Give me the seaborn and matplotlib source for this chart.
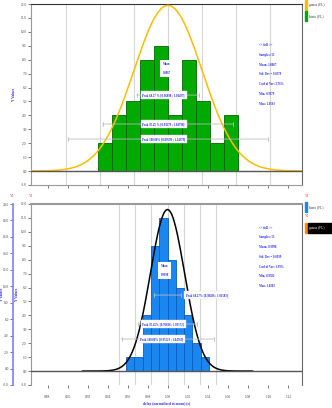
import numpy as np
import pandas as pd
import matplotlib
matplotlib.use("Agg")
import matplotlib.pyplot as plt
from matplotlib.ticker import MultipleLocator, FormatStrFormatter
import seaborn as sns

# ---------------- data ----------------
top_edges = [0.930, 0.944, 0.958, 0.972, 0.986, 1.000, 1.014, 1.028, 1.042, 1.056, 1.070]
top_counts = [2, 4, 5, 8, 9, 4, 8, 5, 2, 4]
top_mean, top_sigma, top_peak = 1.000, 0.034, 11.9
top_stats = ["<< tid1 >>", "Samples: 51", "Mean: 1.0067", "Std. Dev = 0.0379",
             "Coef of Var: 3.76%", "Min: 0.9379", "Max: 1.0563"]
top_mean_label = "Mean\n1.0067"
top_ranges = ["Peak 68.27 % [0.96898 ; 1.04437]",
              "Peak 95.45 % [0.93279 ; 1.04796]",
              "Peak 100.00% [0.89590 ; 1.14379]"]

bot_edges = [0.958, 0.9663, 0.9746, 0.9829, 0.9912, 0.9995, 1.0078, 1.0161, 1.0244, 1.0327, 1.041]
bot_counts = [1, 1, 4, 9, 11, 8, 6, 4, 2, 1]
bot_mean, bot_sigma, bot_peak = 0.9995, 0.0170, 11.6
bot_stats = ["<< tid2 >>", "Samples: 51", "Mean: 0.9998", "Std. Dev = 0.0199",
             "Coef of Var: 1.99%", "Min: 0.9582", "Max: 1.0283"]
bot_mean_label = "Mean\n0.9998"
bot_ranges = ["Peak 68.27% [0.98406 ; 1.01583]",
              "Peak 95.45% [0.96818 ; 1.03172]",
              "Peak 100.00% [0.95229 ; 1.04763]"]

x_ticks = [0.88, 0.90, 0.92, 0.94, 0.96, 0.98, 1.00, 1.02, 1.04, 1.06, 1.08, 1.10, 1.12]
x_label = "delay (normalized to mean) (s)"

# ---------------- style ----------------
sns.set_theme(style="white")
plt.rcParams['font.family'] = ['Liberation Serif', 'DejaVu Sans']
BLUE_TXT = "#2a2aff"
TICK_FS = 2.6
TXT_FS = 2.2
XL = (0.8635, 1.1335)

fig = plt.figure(figsize=(3.32, 4.08), dpi=100)
ax1 = fig.add_axes([31/332, 1-185/408, 271/332, 181/408])
ax2 = fig.add_axes([31/332, 1-385/408, 271/332, 181/408])


def style_axes(ax, show_xlabels):
    ax.set_xlim(*XL)
    ax.set_ylim(-1, 12)
    ax.yaxis.set_major_locator(MultipleLocator(1))
    ax.yaxis.set_major_formatter(FormatStrFormatter("%.1f"))
    ax.set_xticks(x_ticks)
    ax.xaxis.set_minor_locator(MultipleLocator(0.004))
    ax.tick_params(axis="both", which="major", labelsize=TICK_FS, length=2, width=0.5,
                   direction="out", pad=1, colors="#444444")
    ax.tick_params(axis="x", which="minor", length=1.2, width=0.4, colors="#444444")
    ax.tick_params(axis="x", which="major", bottom=True)
    ax.tick_params(axis="y", which="major", left=True)
    if show_xlabels:
        ax.xaxis.set_major_formatter(FormatStrFormatter("%.2f"))
        ax.tick_params(axis="x", pad=5)
    else:
        ax.set_xticklabels([])
    for s in ax.spines.values():
        s.set_linewidth(0.8)
        s.set_color("#999999")
    ax.grid(False)


def draw_panel(ax, edges, counts, mean, sigma, line_sigma, peak, bar_col, edge_col, curve_col,
               stats, ranges, range_y, box_x, stats_y):
    centers = [(a + b) / 2 for a, b in zip(edges[:-1], edges[1:])]
    df = pd.DataFrame({"x": centers, "w": counts})
    for k in (-3, -2, -1, 0, 1, 2, 3):
        ax.axvline(mean + k * line_sigma, color="#d6d6d6", lw=0.8, zorder=0)
    sns.histplot(data=df, x="x", weights="w", bins=edges, ax=ax, color=bar_col,
                 edgecolor=edge_col, linewidth=0.6, alpha=1, zorder=2)
    gx = np.linspace(mean - 5 * sigma, mean + 5 * sigma, 300)
    gdf = pd.DataFrame({"x": gx, "y": peak * np.exp(-0.5 * ((gx - mean) / sigma) ** 2)})
    sns.lineplot(data=gdf, x="x", y="y", ax=ax, color=curve_col, lw=1.1, zorder=3)
    ax.axhline(0, color="#555555", lw=1.0, zorder=4)
    ax.set_xlabel("")
    ax.set_ylabel("")
    for k, (txt, yy, bx) in enumerate(zip(ranges, range_y, box_x)):
        kk = k + 1
        ax.annotate("", xy=(mean - kk * line_sigma, yy), xytext=(mean + kk * line_sigma, yy),
                    arrowprops=dict(arrowstyle="|-|", color="#bbbbbb", lw=0.6,
                                    mutation_scale=1.5), zorder=5)
        ax.text(bx, yy, txt, fontsize=TXT_FS, color=BLUE_TXT, va="center", ha="left",
                fontweight="bold", zorder=6,
                bbox=dict(boxstyle="square,pad=0.6", fc="white", ec="#dddddd", lw=0.3))
    x_stats = XL[0] + (259 - 31) / 1004
    for i, s in enumerate(stats):
        ax.text(x_stats, stats_y - i * 0.7, s, fontsize=TXT_FS, color=BLUE_TXT,
                fontweight="bold", va="center", ha="left", zorder=6)


style_axes(ax1, False)
style_axes(ax2, True)

draw_panel(ax1, top_edges, top_counts, top_mean, top_sigma, 0.034, top_peak,
           "#00aa00", "#006600", "#ffbb00", top_stats, top_ranges,
           [5.46, 3.38, 2.3], [0.9745, 0.9745, 0.9745], 9.05)
ax1.text(0.9945, 7.35, top_mean_label, fontsize=TXT_FS, color=BLUE_TXT, ha="left",
         va="center", linespacing=2.6, zorder=6, fontweight="bold",
         bbox=dict(boxstyle="square,pad=0.7", fc="white", ec="none"))

draw_panel(ax2, bot_edges, bot_counts, bot_mean, bot_sigma, 0.0162, bot_peak,
           "#1a86f0", "#0a5cc0", "#000000", bot_stats, bot_ranges,
           [5.46, 3.38, 2.3], [1.0175, 0.9745, 0.9725], 10.3)
ax2.text(0.9925, 7.25, bot_mean_label, fontsize=TXT_FS, color=BLUE_TXT, ha="left",
         va="center", linespacing=2.6, zorder=6, fontweight="bold",
         bbox=dict(boxstyle="square,pad=0.7", fc="white", ec="none"))
ax2.set_xlabel(x_label, fontsize=TICK_FS, color=BLUE_TXT, labelpad=2, fontweight="bold")

ax1.spines["top"].set_color("#333333")
ax1.spines["right"].set_color("#666666")
ax2.spines["top"].set_color("#999999")
ax2.spines["top"].set_linewidth(1.5)
ax2.spines["right"].set_color("#666666")
ax2.spines["bottom"].set_visible(False)

ax1.set_ylabel("Y Values", fontsize=TICK_FS, color=BLUE_TXT, labelpad=3, fontweight="bold")
ax2.set_ylabel("Y Values", fontsize=TICK_FS, color=BLUE_TXT, labelpad=1.5, fontweight="bold")

# outer y axis for the bottom panel
ax2b = ax2.twinx()
ax2b.spines["left"].set_position(("axes", -18 / 271))
ax2b.spines["left"].set_visible(True)
ax2b.spines["right"].set_visible(False)
ax2b.spines["top"].set_visible(False)
ax2b.spines["bottom"].set_visible(False)
ax2b.yaxis.set_label_position("left")
ax2b.yaxis.set_ticks_position("left")
ax2b.set_ylim(-2, 20)
ax2b.yaxis.set_major_locator(MultipleLocator(2))
ax2b.yaxis.set_major_formatter(FormatStrFormatter("%.1f"))
ax2b.spines["left"].set_color("#8080ff")
ax2b.spines["left"].set_linewidth(1.2)
ax2b.tick_params(axis="y", labelsize=TICK_FS, length=2, width=0.5, colors="#444444", pad=1)
ax2b.set_ylabel("Y Values", fontsize=TICK_FS, color=BLUE_TXT, fontweight="bold")
ax2b.yaxis.set_label_coords(-27 / 271, 0.5)
ax2b.grid(False)


def leg(y, col, txt, dark=False):
    fig.patches.append(plt.Rectangle((305/332, 1-(y+5)/408), 2/332, 10/408,
                                     transform=fig.transFigure, color=col))
    if dark:
        fig.patches.append(plt.Rectangle((308/332, 1-(y+5)/408), 24/332, 10/408,
                                         transform=fig.transFigure, color="black"))
    fig.text(309/332, 1-y/408, txt, fontsize=TICK_FS, color="white" if dark else "#333333",
             va="center", ha="left")

leg(5, "#ffbb00", "gauss (FL)")
leg(16, "#00aa00", "histo (FL)")
leg(207, "#1a86f0", "histo (FL)")
leg(228, "#ff8800", "gauss (FL)", dark=True)
for xx, yy in [(10, 196), (29, 196), (305, 196), (305, 216)]:
    fig.text(xx/332, 1-yy/408, "Y1", fontsize=TICK_FS, color="#ff3333", va="center", ha="left")

fig.savefig("out.png", dpi=100)
